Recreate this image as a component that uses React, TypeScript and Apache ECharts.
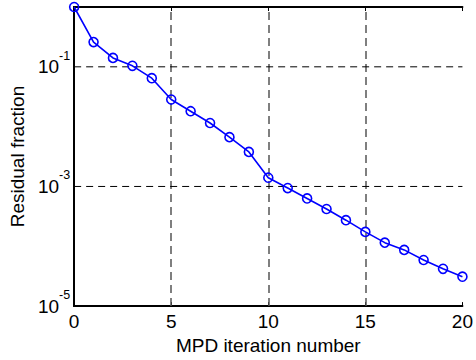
import React, { useEffect, useRef } from 'react';
import * as echarts from 'echarts';

const iterations = [0, 1, 2, 3, 4, 5, 6, 7, 8, 9, 10, 11, 12, 13, 14, 15, 16, 17, 18, 19, 20];
const residual = [
  1.0, 0.259, 0.141, 0.104, 0.0646, 0.0284, 0.0181, 0.0115, 0.00667, 0.00378, 0.0014,
  0.00094, 0.00063, 0.00042, 0.000273, 0.000174, 0.000115, 0.000087, 0.000059, 0.000042, 0.000031,
];
const xRange = [0, 20];
const yLabelExponents = [-5, -3, -1];
const yGridValues = [1e-1, 1e-3];
const xGridValues = [5, 10, 15];

const FONT = "'Liberation Sans', Arial, sans-serif";
const FS = 19;

export default function App() {
  const ref = useRef<HTMLDivElement>(null);
  useEffect(() => {
    if (!ref.current) return;
    const chart = echarts.init(ref.current, null, { renderer: 'svg' });
    const yFormatter = (v: number) => {
      const e = Math.round(Math.log10(v));
      return yLabelExponents.includes(e) ? `{a|10}{b|${e}}` : '';
    };
    const axisLine = { show: true, lineStyle: { color: '#000', width: 2 } };
    const hGrid = yGridValues.map((v) => ({
      type: 'line',
      xAxisIndex: 0,
      yAxisIndex: 0,
      data: xRange.map((x) => [x, v]),
      symbol: 'none',
      silent: true,
      z: 1,
      lineStyle: { color: '#000', width: 1, type: [7, 5] },
    }));
    chart.setOption({
      animation: false,
      backgroundColor: '#fff',
      grid: { left: 74, right: 11, top: 7, bottom: 49, containLabel: false },
      xAxis: [
        {
          type: 'value',
          min: xRange[0],
          max: xRange[1],
          interval: 5,
          name: 'MPD iteration number',
          nameLocation: 'middle',
          nameGap: 29,
          nameTextStyle: { fontFamily: FONT, fontSize: FS, color: '#000' },
          axisLine,
          axisTick: { show: true, inside: true, length: 4, lineStyle: { color: '#000' } },
          axisLabel: { fontFamily: FONT, fontSize: FS, color: '#000', margin: 6 },
          splitLine: { show: false },
        },
        {
          type: 'value',
          position: 'top',
          min: xRange[0],
          max: xRange[1],
          interval: 5,
          axisLine,
          axisTick: { show: true, inside: true, length: 4, lineStyle: { color: '#000' } },
          axisLabel: { show: false },
          splitLine: { show: false },
        },
      ],
      yAxis: [
        {
          type: 'log',
          logBase: 10,
          min: 1e-5,
          max: 1,
          name: 'Residual fraction',
          nameLocation: 'middle',
          nameGap: 45,
          nameTextStyle: { fontFamily: FONT, fontSize: FS, color: '#000' },
          axisLine,
          axisTick: { show: false },
          axisLabel: {
            formatter: yFormatter,
            margin: 4,
            color: '#000',
            padding: [0, 0, 8, 0],
            rich: {
              a: { fontFamily: FONT, fontSize: FS, color: '#000', verticalAlign: 'bottom' },
              b: { fontFamily: FONT, fontSize: 12.5, color: '#000', verticalAlign: 'bottom', padding: [0, 0, 14, 0] },
            },
          },
          splitLine: { show: false },
          minorTick: { show: false },
        },
        {
          type: 'log',
          logBase: 10,
          min: 1e-5,
          max: 1,
          position: 'right',
          axisLine,
          axisTick: { show: false },
          axisLabel: { show: false },
          splitLine: { show: false },
        },
      ],
      series: [
        ...hGrid,
        {
          type: 'line',
          xAxisIndex: 0,
          yAxisIndex: 0,
          data: iterations.map((x, i) => [x, residual[i]]),
          symbol: 'circle',
          symbolSize: 9,
          clip: false,
          lineStyle: { color: '#0000ff', width: 1.6 },
          itemStyle: { color: 'rgba(0,0,0,0)', borderColor: '#0000ff', borderWidth: 1.6 },
          z: 5,
          markLine: {
            silent: true,
            symbol: 'none',
            label: { show: false },
            z: 1,
            data: xGridValues.map((v) => ({ xAxis: v, lineStyle: { color: '#555', width: 1.5, type: [8, 5] } })),
          },
        },
      ],
    });
    return () => chart.dispose();
  }, []);
  return <div ref={ref} style={{ position: 'fixed', left: 0, top: 0, width: 476, height: 360 }} />;
}
